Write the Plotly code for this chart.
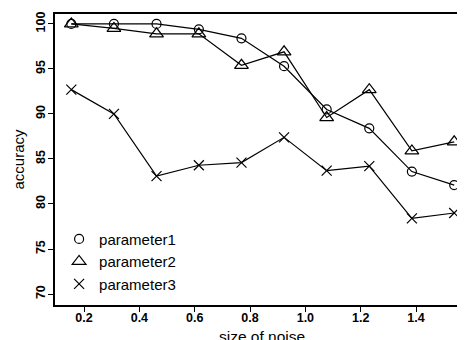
import plotly.graph_objects as go

noise = [0.154, 0.308, 0.462, 0.615, 0.769, 0.923, 1.077, 1.231, 1.385, 1.538]
param1 = [100.0, 100.0, 100.0, 99.4, 98.4, 95.3, 90.5, 88.4, 83.6, 82.1]
param2 = [100.0, 99.5, 98.9, 98.9, 95.4, 96.9, 89.6, 92.7, 85.9, 86.9]
param3 = [92.7, 90.0, 83.1, 84.3, 84.6, 87.4, 83.7, 84.2, 78.4, 79.0]
names = ["parameter1", "parameter2", "parameter3"]
symbols = ["circle-open", "triangle-up-open", "x-thin-open"]
sizes = [9, 12, 10]
x_ticks = [0.2, 0.4, 0.6, 0.8, 1.0, 1.2, 1.4]
x_tick_labels = ["0.2", "0.4", "0.6", "0.8", "1.0", "1.2", "1.4"]
y_ticks = [70, 75, 80, 85, 90, 95, 100]

fig = go.Figure()
for vals, name, sym, sz in zip([param1, param2, param3], names, symbols, sizes):
    fig.add_trace(go.Scatter(
        x=noise, y=vals, mode="lines+markers", name=name, showlegend=False,
        line=dict(color="black", width=1.2),
        marker=dict(symbol=sym, size=sz, color="black", line=dict(width=1.2, color="black")),
    ))
    fig.add_trace(go.Scatter(
        x=[None], y=[None], mode="markers", name=name, showlegend=True,
        marker=dict(symbol=sym, size=sz, color="black", line=dict(width=1.2, color="black")),
    ))

# The page body has an 8px default margin, so the figure is sized 8px smaller
# so that it fills the 465x340 window exactly.
fig.update_layout(
    width=457, height=332,
    margin=dict(l=47, r=0, t=6, b=35),
    plot_bgcolor="white", paper_bgcolor="white",
    font=dict(family="Liberation Sans, Arial, sans-serif", color="black", size=12),
    legend=dict(x=0.01, y=0.283, xanchor="left", yanchor="top",
                bgcolor="rgba(0,0,0,0)", font=dict(size=15, color="black"),
                tracegroupgap=0, itemwidth=30),
    xaxis=dict(range=[0.095, 1.577], tickvals=x_ticks, ticktext=x_tick_labels,
               automargin=False, ticklabelstandoff=-5,
               showgrid=False, zeroline=False, showline=True, linecolor="black",
               linewidth=1.5, mirror=True, ticks="outside", ticklen=5, tickwidth=1.2,
               tickcolor="black", tickfont=dict(size=12.5, weight="bold", color="black")),
    yaxis=dict(range=[68.78, 101.1], tickvals=y_ticks, automargin=False,
               ticklabelstandoff=-2,
               showgrid=False, zeroline=False, showline=True, linecolor="black",
               linewidth=1.5, ticks="outside", ticklen=5, tickwidth=1.2,
               tickcolor="black", tickangle=-90,
               tickfont=dict(size=12.5, weight="bold", color="black")),
    annotations=[
        dict(text="accuracy", xref="paper", yref="paper", x=0, y=0.5,
             xanchor="center", yanchor="middle", xshift=-37, textangle=-90,
             showarrow=False, font=dict(size=15, color="black")),
        dict(text="size of noise", xref="paper", yref="paper", x=0.5, y=0,
             xanchor="center", yanchor="middle", yshift=-31, xshift=2,
             showarrow=False, font=dict(size=15.5, color="black")),
    ],
)

fig.write_html("out.html")
